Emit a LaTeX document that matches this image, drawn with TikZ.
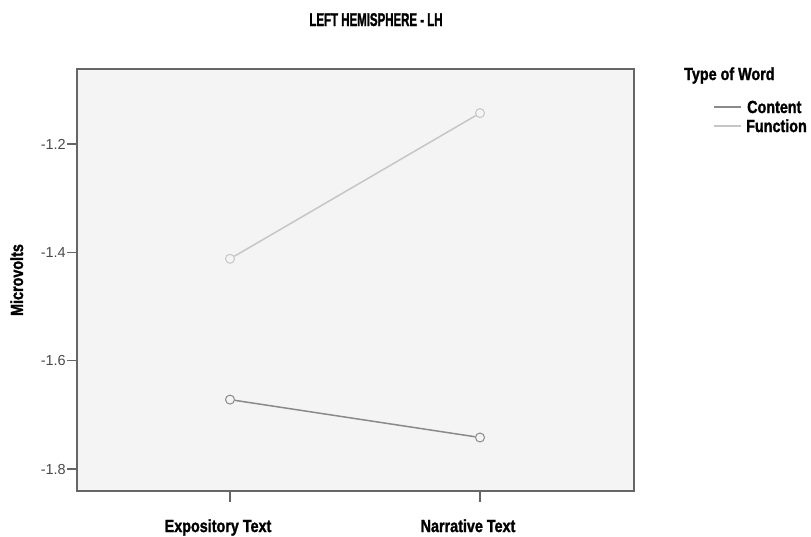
\documentclass[tikz,border=0pt]{standalone}
\usepackage{fontspec}
\setmainfont{Liberation Sans}
\newfontfamily\labelfont[FakeStretch=0.82,FakeBold=1.5]{Liberation Sans}
\newfontfamily\titlefont[FakeStretch=0.62,FakeBold=1.5]{Liberation Sans}

\definecolor{plotbg}{HTML}{F4F4F4}
\definecolor{framegray}{HTML}{666666}
\definecolor{contentgray}{HTML}{8A8A8A}
\definecolor{functiongray}{HTML}{C6C6C6}
\definecolor{ticktext}{HTML}{4A4A4A}

\tikzset{
  lbl/.style={inner sep=0pt, font=\labelfont\bfseries\fontsize{17.5}{20}\selectfont},
  ticklbl/.style={anchor=base east, inner sep=0pt, text=ticktext, font=\fontsize{14.5}{16}\selectfont},
  marker/.style={circle, draw=#1, fill=plotbg, line width=1pt, minimum size=9pt, inner sep=0pt},
}

\begin{document}
\begin{tikzpicture}[x=1pt,y=-1pt]
\useasboundingbox (0,0) rectangle (811,536);

% the title
\node[inner sep=0pt, anchor=base, font=\titlefont\bfseries\fontsize{18.5}{20}\selectfont] (title) at (376,26) {LEFT HEMISPHERE - LH};

% the plot area
\coordinate (nw) at (77,69);
\coordinate (se) at (634,491);
\draw[framegray, line width=2pt, fill=plotbg] (nw) rectangle (se);

% ticks and labels on the y axis
\foreach \v/\y [count=\i] in {1.2/144, 1.4/252.4, 1.6/360.7, 1.8/469}{
  \draw[framegray, line width=1.2pt] (67,\y) -- (77,\y);
  \node[ticklbl] (ytick\i) at (66,\y+5) {-\v};
}
\node[lbl, rotate=90, anchor=base] (ylabel) at (23,280) {Microvolts};

% ticks and labels on the x axis
\coordinate (xexp) at (230,492);
\coordinate (xnar) at (480,492);
\draw[framegray, line width=1.2pt] (xexp) -- ++(0,10);
\draw[framegray, line width=1.2pt] (xnar) -- ++(0,10);
\node[lbl, anchor=base] (lexp) at (218,532) {Expository Text};
\node[lbl, anchor=base] (lnar) at (468,532) {Narrative Text};

% the means
\node[marker=functiongray] (f1) at (230,258.8) {};
\node[marker=functiongray] (f2) at (480,113.1) {};
\node[marker=contentgray] (c1) at (230,399.6) {};
\node[marker=contentgray] (c2) at (480,437.5) {};
\draw[functiongray, line width=1.5pt] (f1) -- (f2);
\draw[contentgray, line width=1.5pt] (c1) -- (c2);

% the legend
\node[lbl, anchor=base west] (legtitle) at (684,80) {Type of Word};
\coordinate (lc) at (714,107);
\coordinate (lf) at (714,126);
\draw[contentgray, line width=1.5pt] (lc) -- ++(27,0);
\draw[functiongray, line width=1.5pt] (lf) -- ++(27,0);
\node[lbl, anchor=base west] (legc) at (747,113) {Content};
\node[lbl, anchor=base west] (legf) at (746,132) {Function};
\end{tikzpicture}
\end{document}
